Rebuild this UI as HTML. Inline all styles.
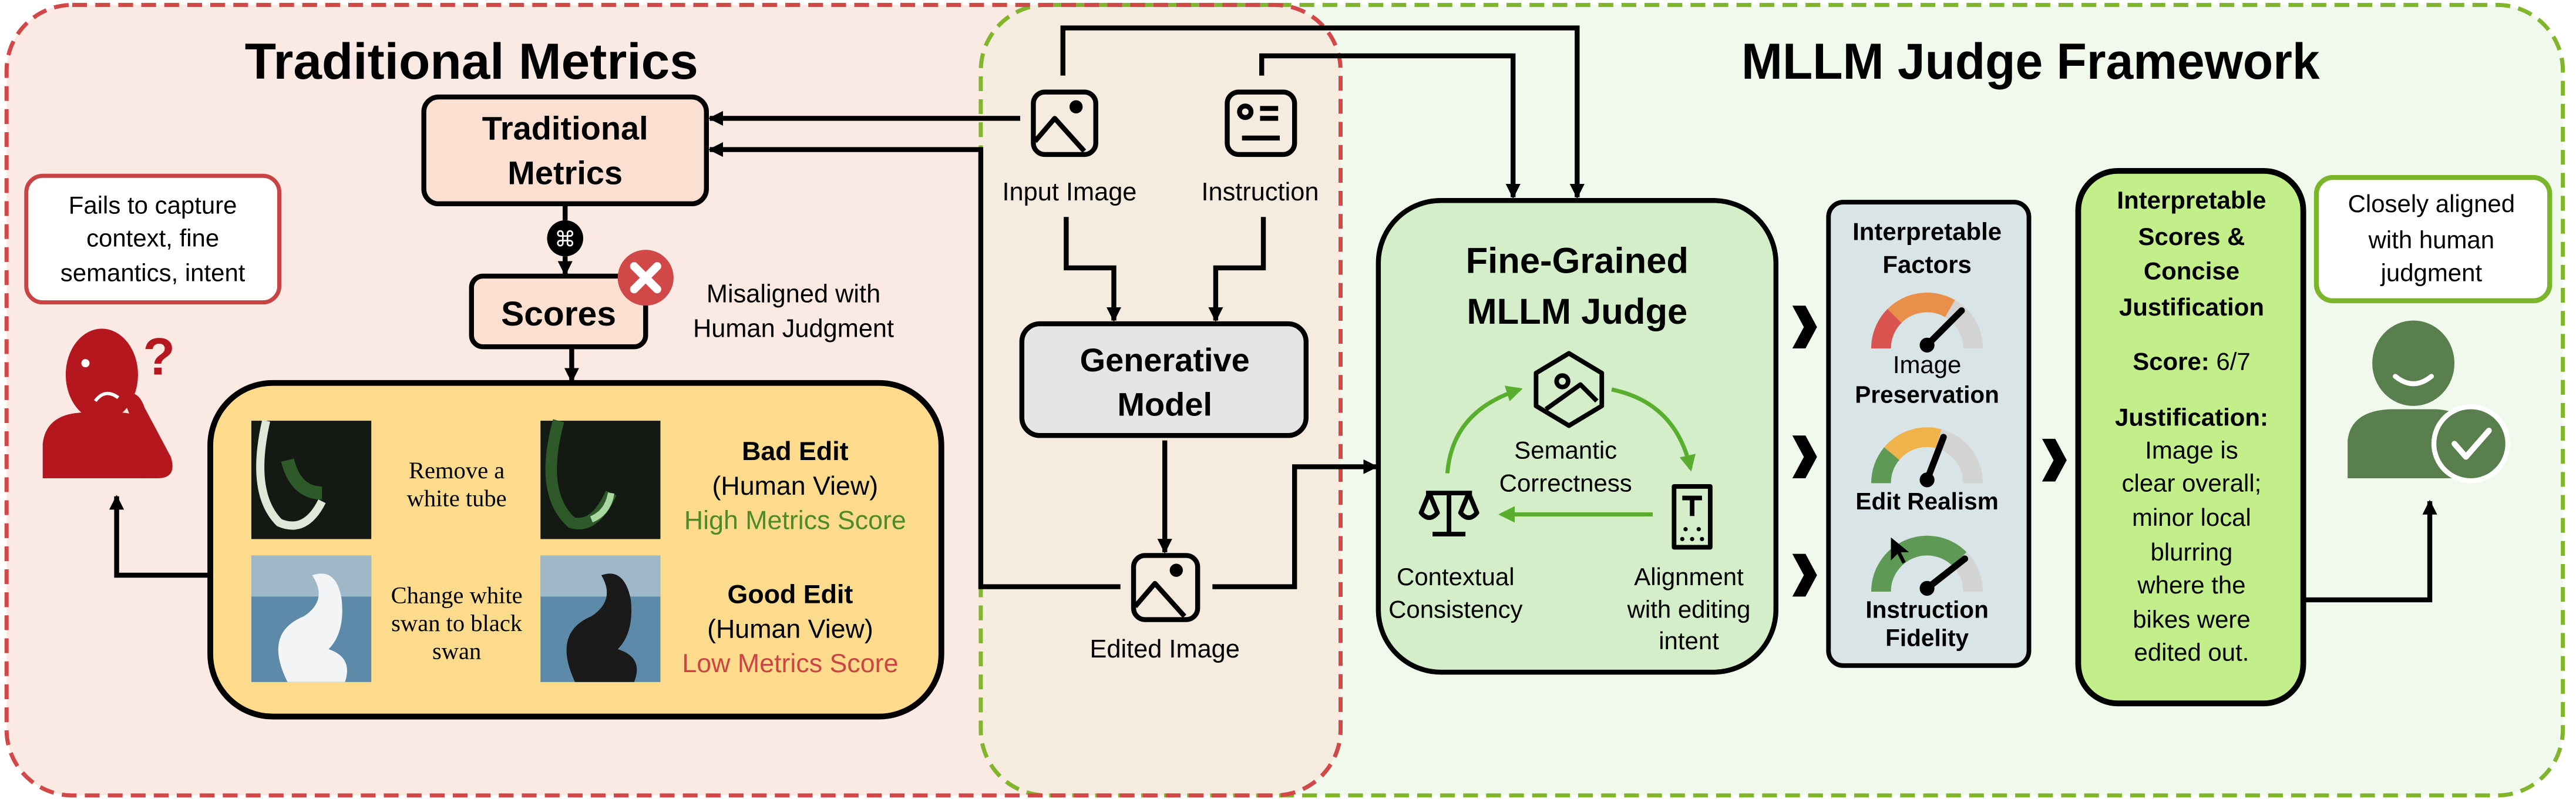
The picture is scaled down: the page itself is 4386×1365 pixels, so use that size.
<!DOCTYPE html>
<html><head><meta charset="utf-8"><style>
html,body{margin:0;padding:0;background:#fff;}
svg{display:block;}
text{font-family:"Liberation Sans",sans-serif;fill:#000;}
.b{font-weight:bold;}
.s{font-family:"Liberation Serif",serif;}
</style></head><body>
<svg width="4386" height="1365" viewBox="0 0 1568 488" preserveAspectRatio="none" xmlns="http://www.w3.org/2000/svg">
<defs>
<marker id="ar" viewBox="0 0 10 10" refX="9" refY="5" markerWidth="9" markerHeight="9" orient="auto" markerUnits="userSpaceOnUse">
<path d="M0 0 L10 5 L0 10 Z" fill="#000"/></marker>
<marker id="ag" viewBox="0 0 10 10" refX="8" refY="5" markerWidth="10" markerHeight="10" orient="auto" markerUnits="userSpaceOnUse"><path d="M0 0 L10 5 L0 10 Z" fill="#5aae2e"/></marker>
</defs>
<rect width="1568" height="488" fill="#fff"/>
<rect x="597" y="3" width="963" height="481" rx="40" fill="#f1f9ec"/>
<rect x="4" y="3" width="812" height="481" rx="40" fill="#fbeae3"/>
<rect x="597" y="3" width="219" height="481" rx="40" fill="#f5ecdf"/>
<rect x="597" y="3" width="963" height="481" rx="40" fill="none" stroke="#80b52c" stroke-width="2.5" stroke-dasharray="9 5"/>
<rect x="4" y="3" width="812" height="481" rx="40" fill="none" stroke="#d04848" stroke-width="2.5" stroke-dasharray="9 5"/>

<text x="287" y="48" text-anchor="middle" class="b" font-size="31" textLength="276" lengthAdjust="spacingAndGlyphs">Traditional Metrics</text>
<text x="1236" y="48" text-anchor="middle" class="b" font-size="31" textLength="352" lengthAdjust="spacingAndGlyphs">MLLM Judge Framework</text>

<g fill="none" stroke="#000" stroke-width="3">
<path d="M647 46 V17 H960 V120" marker-end="url(#ar)"/>
<path d="M768 46 V34 H921 V120" marker-end="url(#ar)"/>
<path d="M621 72 H432" marker-end="url(#ar)"/>
<path d="M682 357 H597 V91 H432" marker-end="url(#ar)"/>
<path d="M649 132 V163 H678 V195" marker-end="url(#ar)"/>
<path d="M769 132 V163 H740 V195" marker-end="url(#ar)"/>
<path d="M709 268 V336" marker-end="url(#ar)"/>
<path d="M738 357 H788 V284 H838" marker-end="url(#ar)"/>
<path d="M344 124 V134"/>
<path d="M344 156 V167" marker-end="url(#ar)"/>
<path d="M348 211 V232" marker-end="url(#ar)"/>
<path d="M128 350 H71 V302" marker-end="url(#ar)"/>
<path d="M1402 365 H1479 V305" marker-end="url(#ar)"/>
</g>

<rect x="258" y="59" width="172" height="65" rx="9" fill="#fbe0d2" stroke="#000" stroke-width="3"/>
<text x="344" y="85" text-anchor="middle" class="b" font-size="20">Traditional</text>
<text x="344" y="112" text-anchor="middle" class="b" font-size="20">Metrics</text>
<circle cx="344" cy="145" r="11" fill="#000"/>
<text x="344" y="150" text-anchor="middle" font-size="13" style="fill:#fff">⌘</text>
<rect x="287" y="168" width="106" height="43" rx="7" fill="#fbe0d2" stroke="#000" stroke-width="3"/>
<text x="340" y="198" text-anchor="middle" class="b" font-size="21">Scores</text>
<circle cx="393" cy="169" r="17" fill="#d04848"/>
<path d="M386 162 L400 176 M400 162 L386 176" stroke="#fff" stroke-width="5" stroke-linecap="round"/>
<text x="483" y="184" text-anchor="middle" font-size="15.5">Misaligned with</text>
<text x="483" y="205" text-anchor="middle" font-size="15.5">Human Judgment</text>

<rect x="16" y="107" width="154" height="77" rx="10" fill="#fff" stroke="#c84444" stroke-width="2.5"/>
<text x="93" y="130" text-anchor="middle" font-size="15">Fails to capture</text>
<text x="93" y="150" text-anchor="middle" font-size="15">context, fine</text>
<text x="93" y="171" text-anchor="middle" font-size="15">semantics, intent</text>
<g fill="#b5171e">
<ellipse cx="62" cy="228" rx="22" ry="28"/>
<path d="M26 291 V270 Q28 252 50 251 H74 Q92 252 96 268 V291 Z"/>
<path d="M74 240 Q84 236 88 248 L104 278 Q108 291 96 291 L88 291 L80 255 Z"/>
<text x="87" y="228" font-size="32" class="b" style="fill:#b5171e">?</text>
</g>
<circle cx="52" cy="221" r="2.5" fill="#fff"/>
<path d="M58 244 Q64 236 72 242" stroke="#fff" stroke-width="2" fill="none"/>

<rect x="128" y="233" width="445" height="203" rx="38" fill="#fcdc8c" stroke="#000" stroke-width="3.5"/>
<rect x="153" y="256" width="73" height="72" fill="#141914"/>
<path d="M162 256 Q152 300 170 318 Q186 325 196 305" stroke="#dfe8d8" stroke-width="5" fill="none"/>
<path d="M175 280 Q180 300 196 300" stroke="#2e5a2a" stroke-width="8" fill="none"/>
<rect x="329" y="256" width="73" height="72" fill="#141914"/>
<path d="M340 256 Q328 300 348 318 Q362 322 372 300" stroke="#2e5a2a" stroke-width="7" fill="none"/>
<path d="M360 316 Q370 312 372 300" stroke="#a8d8a0" stroke-width="4" fill="none"/>
<rect x="153" y="338" width="73" height="77" fill="#5d8aa8"/>
<rect x="153" y="338" width="73" height="25" fill="#9fb8c8"/>
<path d="M175 415 Q160 385 185 375 Q200 365 190 350 Q205 345 208 365 Q210 385 200 395 Q215 400 210 415 Z" fill="#f2f4f6"/>
<rect x="329" y="338" width="73" height="77" fill="#5d8aa8"/>
<rect x="329" y="338" width="73" height="25" fill="#9fb8c8"/>
<path d="M350 415 Q336 385 360 375 Q375 365 366 350 Q380 345 384 365 Q386 385 376 395 Q392 400 386 415 Z" fill="#1a1a1a"/>
<text x="278" y="291" text-anchor="middle" class="s" font-size="14.5">Remove a</text>
<text x="278" y="308" text-anchor="middle" class="s" font-size="14.5">white tube</text>
<text x="278" y="367" text-anchor="middle" class="s" font-size="14.5">Change white</text>
<text x="278" y="384" text-anchor="middle" class="s" font-size="14.5">swan to black</text>
<text x="278" y="401" text-anchor="middle" class="s" font-size="14.5">swan</text>
<text x="484" y="280" text-anchor="middle" class="b" font-size="16">Bad Edit</text>
<text x="484" y="301" text-anchor="middle" font-size="16">(Human View)</text>
<text x="484" y="322" text-anchor="middle" font-size="16" style="fill:#4d8a2a">High Metrics Score</text>
<text x="481" y="367" text-anchor="middle" class="b" font-size="16">Good Edit</text>
<text x="481" y="388" text-anchor="middle" font-size="16">(Human View)</text>
<text x="481" y="409" text-anchor="middle" font-size="16" style="fill:#cc4444">Low Metrics Score</text>

<g fill="none" stroke="#000" stroke-width="3" stroke-linejoin="round">
<rect x="629" y="56" width="38" height="38" rx="7"/>
<path d="M630 86 L642 72 L660 92"/><circle cx="655" cy="65" r="2.5" fill="#000"/>
<rect x="747" y="56" width="41" height="38" rx="7"/>
<circle cx="758" cy="68" r="3.5"/><path d="M767 66 H778 M767 72 H778 M756 84 H779"/>
<rect x="690" y="338" width="39" height="39" rx="7"/>
<path d="M691 369 L703 355 L721 375"/><circle cx="716" cy="347" r="2.5" fill="#000"/>
</g>
<text x="651" y="122" text-anchor="middle" font-size="15.5">Input Image</text>
<text x="767" y="122" text-anchor="middle" font-size="15.5">Instruction</text>
<text x="709" y="400" text-anchor="middle" font-size="15.5">Edited Image</text>

<rect x="622" y="197" width="173" height="68" rx="11" fill="#e5e5e5" stroke="#000" stroke-width="3"/>
<text x="709" y="226" text-anchor="middle" class="b" font-size="20">Generative</text>
<text x="709" y="253" text-anchor="middle" class="b" font-size="20">Model</text>

<rect x="839" y="122" width="242" height="287" rx="38" fill="#d3eec8" stroke="#000" stroke-width="3"/>
<text x="960" y="166" text-anchor="middle" class="b" font-size="22">Fine-Grained</text>
<text x="960" y="197" text-anchor="middle" class="b" font-size="22">MLLM Judge</text>
<g fill="none" stroke="#000" stroke-width="2.8" stroke-linejoin="round">
<path d="M955 215 L975 227 L975 247 L955 259 L935 247 L935 227 Z"/>
<circle cx="951" cy="232" r="3.5"/><path d="M941 249 L962 234 L972 244"/>
<path d="M882 300 V324 M872 325 H892 M868 300 H896"/>
<path d="M870 300 L865 312 Q870 318 875 312 Z M894 300 L889 312 Q894 318 899 312 Z"/>
<rect x="1019" y="296" width="22" height="37"/>
<path d="M1024 303 H1036 M1030 303 V314"/>
</g>
<circle cx="1026" cy="322" r="1.3"/><circle cx="1034" cy="322" r="1.3"/><circle cx="1024" cy="328" r="1.3"/><circle cx="1030" cy="328" r="1.3"/><circle cx="1036" cy="328" r="1.3"/>
<g fill="none" stroke="#5aae2e" stroke-width="2.5">
<path d="M881 288 Q884 250 925 237" marker-end="url(#ag)"/>
<path d="M981 237 Q1020 245 1029 285" marker-end="url(#ag)"/>
<path d="M1006 313 H914" marker-end="url(#ag)"/>
</g>
<text x="953" y="279" text-anchor="middle" font-size="15">Semantic</text>
<text x="953" y="299" text-anchor="middle" font-size="15">Correctness</text>
<text x="886" y="356" text-anchor="middle" font-size="15">Contextual</text>
<text x="886" y="376" text-anchor="middle" font-size="15">Consistency</text>
<text x="1028" y="356" text-anchor="middle" font-size="15">Alignment</text>
<text x="1028" y="376" text-anchor="middle" font-size="15">with editing</text>
<text x="1028" y="395" text-anchor="middle" font-size="15">intent</text>

<g fill="#000">
<path d="M1091 186 L1099 186 L1106 199 L1099 212 L1091 212 L1098 199 Z"/>
<path d="M1091 265 L1099 265 L1106 278 L1099 291 L1091 291 L1098 278 Z"/>
<path d="M1091 337 L1099 337 L1106 350 L1099 363 L1091 363 L1098 350 Z"/>
<path d="M1243 267 L1251 267 L1258 280 L1251 293 L1243 293 L1250 280 Z"/>
</g>

<rect x="1113" y="123" width="122" height="282" rx="9" fill="#d8e4e6" stroke="#000" stroke-width="2.8"/>
<text x="1173" y="146" text-anchor="middle" class="b" font-size="15">Interpretable</text>
<text x="1173" y="166" text-anchor="middle" class="b" font-size="15">Factors</text>
<g fill="none" stroke-width="12">
<path d="M1145 212 A28 28 0 0 1 1153.2 192.2" stroke="#d9534f"/>
<path d="M1153.2 192.2 A28 28 0 0 1 1187 187.8" stroke="#e8904a"/>
<path d="M1187 187.8 A28 28 0 0 1 1201 212" stroke="#d3d3d3"/>
<path d="M1145 294 A28 28 0 0 1 1151.5 276" stroke="#5e9a55"/>
<path d="M1151.5 276 A28 28 0 0 1 1180.2 267" stroke="#f0b24a"/>
<path d="M1180.2 267 A28 28 0 0 1 1201 294" stroke="#d3d3d3"/>
<path d="M1145 360 A28 28 0 0 1 1192.8 340.2" stroke="#5e9a55"/>
<path d="M1192.8 340.2 A28 28 0 0 1 1201 360" stroke="#d3d3d3"/>
</g>
<g stroke="#000" stroke-linecap="round">
<path d="M1173 210 L1194 189" stroke-width="4"/><circle cx="1173" cy="210" r="4"/>
<path d="M1173 292 L1183 266" stroke-width="4"/><circle cx="1173" cy="292" r="4"/>
<path d="M1173 358 L1196 340" stroke-width="4"/><circle cx="1173" cy="358" r="4"/>
</g>
<path d="M1151 327 L1151 341 L1155 337 L1158 343 L1160 342 L1157 336 L1162 336 Z" fill="#000"/>
<text x="1173" y="227" text-anchor="middle" font-size="15">Image</text>
<text x="1173" y="245" text-anchor="middle" class="b" font-size="14.5">Preservation</text>
<text x="1173" y="310" text-anchor="middle" class="b" font-size="14.5">Edit Realism</text>
<text x="1173" y="376" text-anchor="middle" class="b" font-size="14.5">Instruction</text>
<text x="1173" y="393" text-anchor="middle" class="b" font-size="14.5">Fidelity</text>

<rect x="1265" y="104" width="137" height="324" rx="24" fill="#c2ef8a" stroke="#000" stroke-width="3.5"/>
<g text-anchor="middle" font-size="15">
<text x="1334" y="127" class="b">Interpretable</text>
<text x="1334" y="149" class="b">Scores &amp;</text>
<text x="1334" y="170" class="b">Concise</text>
<text x="1334" y="192" class="b">Justification</text>
<text x="1334" y="225"><tspan class="b">Score:</tspan> 6/7</text>
<text x="1334" y="259" class="b">Justification:</text>
<text x="1334" y="279">Image is</text>
<text x="1334" y="299">clear overall;</text>
<text x="1334" y="320">minor local</text>
<text x="1334" y="341">blurring</text>
<text x="1334" y="361">where the</text>
<text x="1334" y="382">bikes were</text>
<text x="1334" y="402">edited out.</text>
</g>

<rect x="1410" y="108" width="142" height="75" rx="10" fill="#fff" stroke="#7ab52a" stroke-width="3"/>
<text x="1480" y="129" text-anchor="middle" font-size="15">Closely aligned</text>
<text x="1480" y="151" text-anchor="middle" font-size="15">with human</text>
<text x="1480" y="171" text-anchor="middle" font-size="15">judgment</text>
<g fill="#5a7f4f">
<ellipse cx="1469" cy="221" rx="25" ry="26"/>
<path d="M1429 291 V268 Q1431 250 1455 249 H1483 Q1500 250 1504 262 V291 Z"/>
</g>
<path d="M1458 229 Q1469 238 1480 229" stroke="#fff" stroke-width="3" fill="none" stroke-linecap="round"/>
<circle cx="1504" cy="270" r="24" fill="#fff"/>
<circle cx="1504" cy="270" r="21" fill="#5a7f4f"/>
<path d="M1494 270 L1501 278 L1515 262" stroke="#fff" stroke-width="3.5" fill="none" stroke-linecap="round" stroke-linejoin="round"/>
</svg>
</body></html>
